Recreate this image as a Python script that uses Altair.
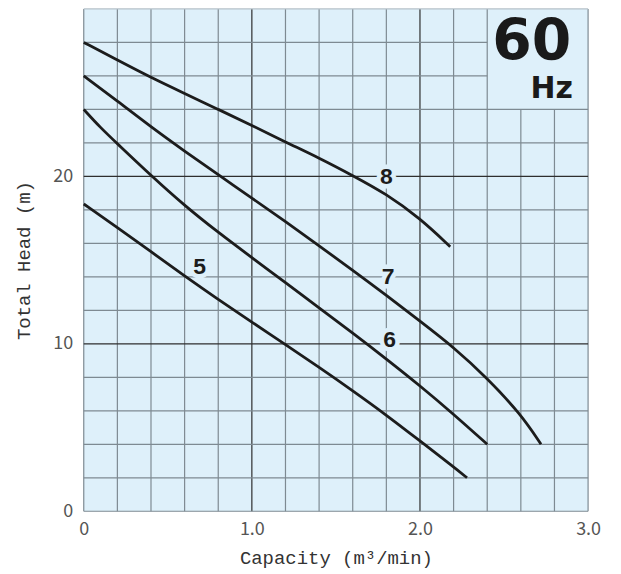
import altair as alt
import pandas as pd

# ---- data ----
q8 = [0, 0.2, 0.4, 0.6, 0.8, 1.0, 1.2, 1.4, 1.6, 1.8, 2.0, 2.18]
h8 = [28.0, 26.95, 25.9, 24.95, 24.0, 23.05, 22.05, 21.1, 20.05, 18.95, 17.5, 15.8]

q7 = [0, 0.2, 0.4, 0.6, 0.8, 1.0, 1.2, 1.4, 1.6, 1.8, 2.0, 2.2, 2.4, 2.6, 2.72]
h7 = [26.0, 24.5, 22.95, 21.5, 20.1, 18.7, 17.3, 15.85, 14.4, 12.9, 11.35, 9.8, 7.95, 5.8, 4.0]

q6 = [0, 0.1, 0.2, 0.4, 0.6, 0.8, 1.0, 1.2, 1.4, 1.6, 1.8, 2.0, 2.2, 2.4]
h6 = [24.0, 22.9, 21.95, 20.05, 18.25, 16.65, 15.15, 13.65, 12.15, 10.65, 9.1, 7.5, 5.8, 4.0]

q5 = [0, 0.2, 0.4, 0.6, 0.8, 1.0, 1.2, 1.4, 1.6, 1.8, 2.0, 2.2, 2.28]
h5 = [18.35, 16.95, 15.5, 14.05, 12.65, 11.3, 9.95, 8.6, 7.2, 5.75, 4.2, 2.65, 2.0]

curve_names = ["8", "7", "6", "5"]
label_q = [1.80, 1.81, 1.82, 0.69]
label_h = [20.0, 14.05, 10.27, 14.67]

x_ticks = [0, 1.0, 2.0, 3.0]
y_ticks = [0, 10, 20]
x_grid = [0, 0.2, 0.4, 0.6, 0.8, 1.0, 1.2, 1.4, 1.6, 1.8, 2.0, 2.2, 2.4, 2.6, 2.8, 3.0]
y_grid = [0, 2, 4, 6, 8, 10, 12, 14, 16, 18, 20, 22, 24, 26, 28, 30]
x_major = [1.0, 2.0]
y_major = [10, 20]

freq_text = "60"
unit_text = "Hz"
box_q = 2.4   # "60 Hz" panel (no inner grid)
box_h = 24

BG = "#def0fa"
MINOR = "#7e8a92"
MAJOR = "#2e2e2e"
TOPEDGE = "#b4c0c8"

# ---- tables ----
rows = []
for name, qs, hs in [("8", q8, h8), ("7", q7, h7), ("6", q6, h6), ("5", q5, h5)]:
    for q, h in zip(qs, hs):
        rows.append({"q": q, "h": h, "pump": name})
curves = pd.DataFrame(rows)

vrows = []
for q in x_grid:
    top = box_h if q > box_q + 1e-9 and q < 3.0 - 1e-9 else 30
    kind = "major" if q in x_major else "minor"
    vrows.append({"q": q, "h0": 0, "h1": top, "kind": kind})
vgrid = pd.DataFrame(vrows)

hrows = []
for h in y_grid:
    right = box_q if h > box_h and h < 30 else 3.0
    if h == 30:
        kind = "top"
    elif h in y_major:
        kind = "major"
    else:
        kind = "minor"
    hrows.append({"h": h, "q0": 0, "q1": right, "kind": kind})
hgrid = pd.DataFrame(hrows)

labels = pd.DataFrame({"q": label_q, "h": label_h, "t": curve_names})

xs = alt.Scale(domain=[0, 3], nice=False, zero=False)
ys = alt.Scale(domain=[0, 30], nice=False, zero=False)

grid_color = alt.Color(
    "kind:N",
    scale=alt.Scale(domain=["minor", "major", "top"], range=[MINOR, MAJOR, TOPEDGE]),
    legend=None,
)

base_axis_x = alt.Axis(
    values=x_ticks,
    labelExpr="datum.value == 0 ? '0' : format(datum.value, '.1f')",
    grid=False, domain=False, ticks=False, tickSize=0, labelFlush=False,
    labelFont="Noto Sans CJK JP", labelFontSize=18, labelColor="#555555",
    labelPadding=9,
    title="Capacity (m³/min)",
    titleFont="Liberation Mono", titleFontSize=19, titleFontWeight="normal",
    titleColor="#333333", titleBaseline="alphabetic", titleY=52, titleX=253,
    titleAnchor="middle",
)
base_axis_y = alt.Axis(
    values=y_ticks, format="d",
    grid=False, domain=False, ticks=False, tickSize=0, labelFlush=False,
    labelFont="Noto Sans CJK JP", labelFontSize=18, labelColor="#555555",
    labelPadding=11,
    title="Total Head (m)",
    titleFont="Liberation Mono", titleFontSize=19, titleFontWeight="normal",
    titleColor="#333333", titleBaseline="alphabetic", titleAngle=-90,
    titleX=-54, titleY=252, titleAnchor="middle",
)

vlines = alt.Chart(vgrid).mark_rule(strokeWidth=1.2).encode(
    x=alt.X("q:Q", scale=xs, axis=base_axis_x),
    y=alt.Y("h0:Q", scale=ys, axis=base_axis_y),
    y2="h1:Q",
    color=grid_color,
)
hlines = alt.Chart(hgrid).mark_rule(strokeWidth=1.2).encode(
    y=alt.Y("h:Q", scale=ys),
    x=alt.X("q0:Q", scale=xs),
    x2="q1:Q",
    color=grid_color,
)

label_knock = alt.Chart(labels).mark_text(
    font="Liberation Sans", fontSize=23, fontWeight="bold",
    stroke=BG, strokeWidth=9, fill=BG, baseline="middle", align="center", dy=1,
).encode(x=alt.X("q:Q", scale=xs), y=alt.Y("h:Q", scale=ys), text="t:N")

lines = alt.Chart(curves).mark_line(
    color="#1c1c1c", strokeWidth=2.8, interpolate="basis"
).encode(
    x=alt.X("q:Q", scale=xs),
    y=alt.Y("h:Q", scale=ys),
    detail="pump:N",
)

label_text = alt.Chart(labels).mark_text(
    font="Liberation Sans", fontSize=23, fontWeight="bold",
    color="#1c1c1c", baseline="middle", align="center", dy=1,
).encode(x=alt.X("q:Q", scale=xs), y=alt.Y("h:Q", scale=ys), text="t:N")

freq_df = pd.DataFrame({"q": [2.9], "h": [26.95], "t": [freq_text]})
unit_df = pd.DataFrame({"q": [2.91], "h": [24.70], "t": [unit_text]})

freq = alt.Chart(freq_df).mark_text(
    font="DejaVu Sans", fontSize=57, fontWeight="bold", color="#1a1a1a",
    align="right", baseline="alphabetic",
).encode(x=alt.X("q:Q", scale=xs), y=alt.Y("h:Q", scale=ys), text="t:N")

unit = alt.Chart(unit_df).mark_text(
    font="DejaVu Sans", fontSize=30, fontWeight="bold", color="#1a1a1a",
    align="right", baseline="alphabetic",
).encode(x=alt.X("q:Q", scale=xs), y=alt.Y("h:Q", scale=ys), text="t:N")

chart = alt.layer(vlines, hlines, label_knock, lines, label_text, freq, unit).properties(
    width=506, height=504,
    autosize=alt.AutoSizeParams(type="none"),
    padding={"left": 76, "top": 0, "right": 25, "bottom": 60},
    background="white",
).configure_view(fill=BG, stroke=None)

chart.save("out.html", embed_options={"renderer": "svg", "actions": False})
